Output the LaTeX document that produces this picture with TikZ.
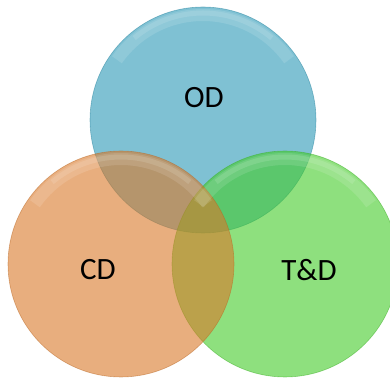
\documentclass[tikz,border=0pt]{standalone}
\usepackage{fontspec}
\setmainfont{Carlito}
\usepackage{xcolor}
\usepackage{tikz}
\usetikzlibrary{positioning}
\definecolor{odblue}{RGB}{42, 152, 182}
\definecolor{cdorange}{RGB}{217, 120, 40}
\definecolor{tdgreen}{RGB}{67, 203, 40}

\begin{document}
\begin{tikzpicture}[
  x=1pt, y=1pt,
  every node/.style={font=\fontsize{31}{37}\selectfont},
  setbox/.style={circle, minimum size=226pt, inner sep=0pt, fill=#1, fill opacity=0.6, draw=#1!85!black, draw opacity=0.5, line width=0.6pt},
  shine/.style={white, line width=#1, opacity=0.12, line cap=butt},
  tag/.style={text=black, inner sep=0pt}
]
  \useasboundingbox (0,0) rectangle (390,379);

  % Drei Kreise (Reihenfolge wie im Bild)
  \node[setbox=odblue] (od) at (203,259) {};
  \node[setbox=tdgreen] (td) at (285,115) {};
  \node[setbox=cdorange] (cd) at (121,115) {};

  % Glanz oben
  \foreach \c in {od, td, cd} {
    \draw[shine=12pt] ([shift={(145:105pt)}]\c.center) arc[start angle=145, end angle=35, radius=105pt];
    \draw[shine=5pt] ([shift={(130:107pt)}]\c.center) arc[start angle=130, end angle=50, radius=107pt];
  }

  % Beschriftung
  \node[tag] (odtag) at (204,281) {OD};
  \node[tag] (cdtag) at (98,109) {CD};
  \node[tag] (tdtag) at (309,109) {T\&D};

\end{tikzpicture}
\end{document}
